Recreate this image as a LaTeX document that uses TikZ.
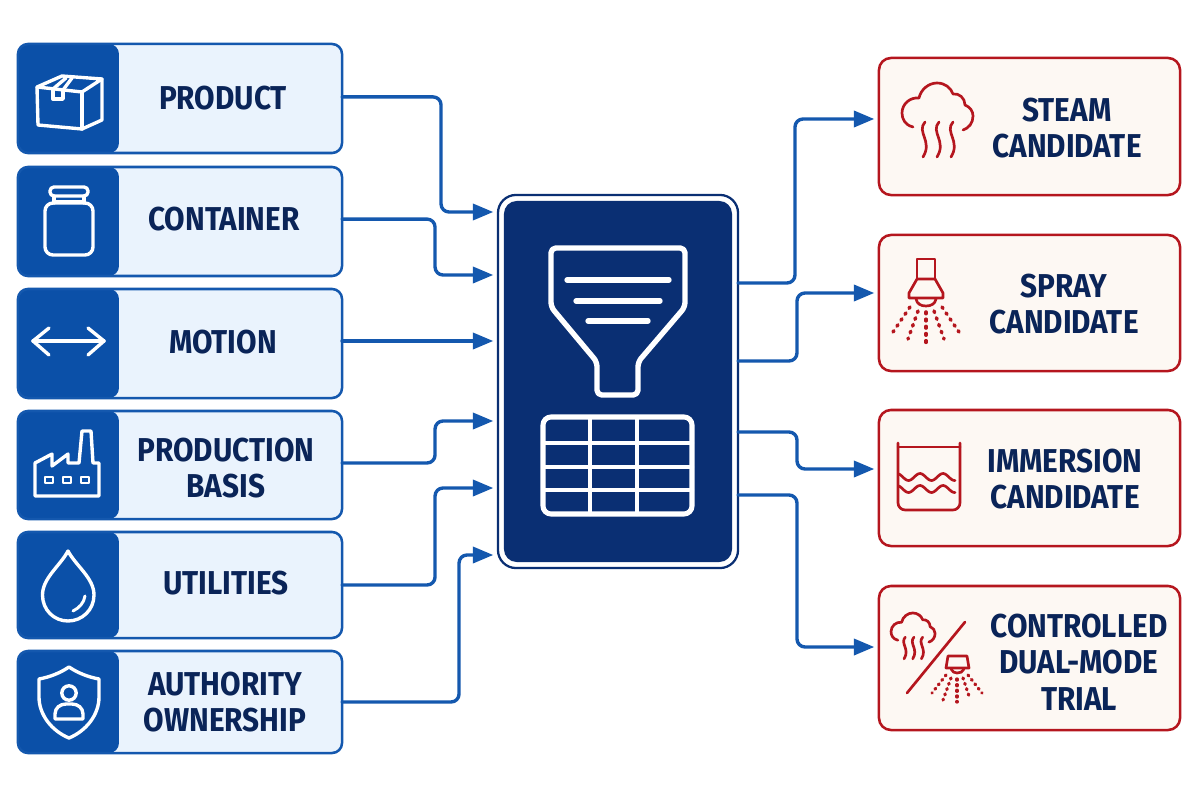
\documentclass[tikz,border=0pt]{standalone}
\usepackage{fontspec}
\setmainfont[FakeStretch=0.9]{Fira Sans}
\usetikzlibrary{arrows}
\definecolor{bandblue}{HTML}{0B50A8}
\definecolor{edgeblue}{HTML}{1458AE}
\definecolor{paleblue}{HTML}{EAF3FD}
\definecolor{hubnavy}{HTML}{0A2F73}
\definecolor{textnavy}{HTML}{0A2458}
\definecolor{edgered}{HTML}{B5161E}
\definecolor{palecream}{HTML}{FDF8F3}
\tikzset{
  inputbox/.style={draw=edgeblue,fill=paleblue,line width=1.8pt,rounded corners=0.25cm,minimum width=8.1cm,outer sep=0pt,
    path picture={\fill [bandblue] (path picture bounding box.south west) rectangle ([xshift=2.525cm]path picture bounding box.north west);}},
  outputbox/.style={draw=edgered,fill=palecream,line width=1.8pt,rounded corners=0.3cm,minimum width=7.525cm,outer sep=0pt},
  boxlabel/.style={text=textnavy,font=\bfseries\fontsize{23.5}{25}\selectfont,align=center,inner sep=0pt},
  flow/.style={edgeblue,line width=2.4pt,rounded corners=0.2cm,->,shorten >=0.1cm},
  whiteicon/.style={draw=white,line width=2.4pt},
  redicon/.style={draw=edgered,line width=1.9pt},
  raydots/.style={edgered,line width=2.5pt,dash pattern=on 1.2pt off 3.9pt},
  smalldots/.style={edgered,line width=2.3pt,dash pattern=on 0.8pt off 3.2pt}
}
\newcommand{\steamicon}{
\draw [redicon] (913,127) .. controls (905,125) and (902,119) .. (902,113) .. controls (902,104) and (910,97) .. (919,98) .. controls (921,89) and (929,83) .. (937,83) .. controls (945,83) and (951,88) .. (953,94) .. controls (959,93) and (965,98) .. (965,105) .. controls (970,107) and (973,111) .. (973,116) .. controls (973,123) and (969,128) .. (963,130);
\draw [redicon] (925,122) .. controls (916,132) and (933,141) .. (923,157);
\draw [redicon] (939,122) .. controls (930,132) and (947,141) .. (937,157);
\draw [redicon] (953,122) .. controls (944,132) and (961,141) .. (951,157);
}
\begin{document}
\begin{tikzpicture}[line cap=round,line join=round,>=triangle 45,x=0.025cm,y=-0.025cm]
\useasboundingbox (0,0) rectangle (1200,800);
% inputs
\node [inputbox,minimum height=2.725cm] (product) at (180,98.5) {};
\node [inputbox,minimum height=2.725cm] (container) at (180,221.5) {};
\node [inputbox,minimum height=2.725cm] (motion) at (180,343.5) {};
\node [inputbox,minimum height=2.7cm] (basis) at (180,465) {};
\node [inputbox,minimum height=2.65cm] (utilities) at (180,585) {};
\node [inputbox,minimum height=2.55cm] (authority) at (180,702) {};
\node [boxlabel] (productlabel) at (223,98) {PRODUCT};
\node [boxlabel] (containerlabel) at (224,219) {CONTAINER};
\node [boxlabel] (motionlabel) at (223,342) {MOTION};
\node [boxlabel] (basislabel) at (226,468) {PRODUCTION\\[1pt]BASIS};
\node [boxlabel] (utilitieslabel) at (226,583) {UTILITIES};
\node [boxlabel] (authoritylabel) at (225,702) {AUTHORITY\\[1pt]OWNERSHIP};
% box
\draw [whiteicon] (37,87) -- (62,76) -- (102,79) -- (82,92) -- cycle;
\draw [whiteicon] (37,87) -- (38,125) -- (82,129) -- (102,120) -- (102,79);
\draw [whiteicon] (82,92) -- (82,129);
\draw [whiteicon] (53,89) -- (53,99) -- (63,99) -- (63,90);
\draw [whiteicon] (53,89) -- (66,78);
\draw [whiteicon] (63,90) -- (72,78);
% jar
\draw [whiteicon,rounded corners=0.1cm] (50,187) rectangle (88,196);
\draw [whiteicon] (54,196) -- (54,203);
\draw [whiteicon] (84,196) -- (84,203);
\draw [whiteicon] (54,202) -- (84,202);
\draw [whiteicon,rounded corners=0.2cm] (45,203) rectangle (93,255);
% motion arrow
\draw [whiteicon] (33,341) -- (104,341);
\draw [whiteicon] (49,328) -- (33,341) -- (49,355);
\draw [whiteicon] (88,328) -- (104,341) -- (88,355);
% factory
\draw [whiteicon] (35,496) -- (35,463) -- (52,454) -- (52,466) -- (68,454) -- (68,463) -- (79,463) -- (82,431) -- (91,431) -- (93,463) -- (99,463) -- (99,496) -- cycle;
\draw [white,line width=1.8pt] (45,477) rectangle (53,483);
\draw [white,line width=1.8pt] (63,477) rectangle (71,483);
\draw [white,line width=1.8pt] (81,477) rectangle (89,483);
% drop
\draw [whiteicon] (68,551) .. controls (60,566) and (42.5,578) .. (42.5,595) .. controls (42.5,610) and (54,621) .. (68,621) .. controls (82,621) and (94,610) .. (94,595) .. controls (94,578) and (76,566) .. (68,551) -- cycle;
\draw [white,line width=2.1pt] (73,611) .. controls (79,608) and (84,603) .. (85,596);
% shield
\draw [whiteicon] (69,667) .. controls (60,673) and (50,677) .. (39,679) -- (39,697) .. controls (39,715) and (52,731) .. (69,738) .. controls (86,731) and (99,715) .. (99,697) -- (99,679) .. controls (88,677) and (78,673) .. (69,667) -- cycle;
\draw [whiteicon] (69,693) circle (0.18cm);
\draw [whiteicon] (55,719) -- (55,714) .. controls (55,708) and (60,704) .. (66,704) -- (72,704) .. controls (78,704) and (83,708) .. (83,714) -- (83,719) -- cycle;
% hub
\node [draw=hubnavy,fill=white,line width=1.6pt,rounded corners=0.45cm,minimum width=6cm,minimum height=9.325cm,outer sep=0pt] (hub) at (618,381.5) {};
\node [fill=hubnavy,rounded corners=0.32cm,minimum width=5.7cm,minimum height=9.025cm,outer sep=0pt] (hubinner) at (618,381.5) {};
\draw [white,line width=3.8pt,rounded corners=0.12cm] (551,248) -- (685,248) -- (685,307) -- (638,362) -- (638,395) -- (597,395) -- (597,362) -- (551,307) -- cycle;
\draw [white,line width=3.8pt] (567,280) -- (669,280);
\draw [white,line width=3.8pt] (576,301) -- (660,301);
\draw [white,line width=3.8pt] (588,321) -- (648,321);
\draw [white,line width=3.6pt,rounded corners=0.2cm] (543,417) rectangle (692,514);
\draw [white,line width=3pt] (590,417) -- (590,514);
\draw [white,line width=3pt] (637,417) -- (637,514);
\draw [white,line width=3pt] (543,443) -- (692,443);
\draw [white,line width=3pt] (543,467) -- (692,467);
\draw [white,line width=3pt] (543,490) -- (692,490);
% outputs
\node [outputbox,minimum height=3.425cm] (steam) at (1029.5,126.5) {};
\node [outputbox,minimum height=3.4cm] (spray) at (1029.5,303) {};
\node [outputbox,minimum height=3.4cm] (immersion) at (1029.5,478) {};
\node [outputbox,minimum height=3.6cm] (trial) at (1029.5,658) {};
\node [boxlabel] (steamlabel) at (1067,128) {STEAM\\[1pt]CANDIDATE};
\node [boxlabel] (spraylabel) at (1064,304) {SPRAY\\[1pt]CANDIDATE};
\node [boxlabel] (immersionlabel) at (1065,479) {IMMERSION\\[1pt]CANDIDATE};
\node [boxlabel] (triallabel) at (1079,662) {CONTROLLED\\[1pt]DUAL-MODE\\[1pt]TRIAL};
% steam
\steamicon
% spray
\draw [redicon] (917,279) -- (917,259) -- (935,259) -- (935,279);
\draw [redicon] (917,279) -- (935,279) -- (943,293) -- (943,298) -- (909,298) -- (909,293) -- cycle;
\draw [redicon] (916,299) .. controls (917,304) and (921,306) .. (926,306) .. controls (931,306) and (935,304) .. (936,299);
\draw [raydots] (910,307) -- (893,332);
\draw [raydots] (918,311) -- (908,339);
\draw [raydots] (926,312) -- (926,343);
\draw [raydots] (934,311) -- (944,339);
\draw [raydots] (942,307) -- (959,332);
% immersion
\draw [redicon,rounded corners=0.18cm] (898,443) -- (898,510) -- (960,510) -- (960,443);
\draw [redicon] (898,447) -- (960,447);
\draw [redicon,domain=899:955,samples=40] plot(\x,{477-3.5*cos(360*(\x-920)/23)});
\draw [redicon,domain=899:955,samples=40] plot(\x,{489-3.5*cos(360*(\x-920)/23)});
% dual mode
\begin{scope}[shift={(331.8,561.5)},scale=0.62]
\steamicon
\end{scope}
\draw [redicon] (907,693) -- (965,622);
\draw [redicon] (948,656) -- (967,656) -- (969,668) -- (946,668) -- cycle;
\draw [redicon] (951,669) .. controls (952,672) and (955,673) .. (957,673) .. controls (960,673) and (963,672) .. (964,669);
\draw [smalldots] (946,675) -- (932,693);
\draw [smalldots] (951,678) -- (943,700);
\draw [smalldots] (957,679) -- (957,702);
\draw [smalldots] (963,678) -- (970,699);
\draw [smalldots] (968,675) -- (982,693);
% connectors
\coordinate (hubin1) at (497,212);
\coordinate (hubin2) at (497,275);
\coordinate (hubin3) at (497,341);
\coordinate (hubin4) at (497,421);
\coordinate (hubin5) at (497,488);
\coordinate (hubin6) at (497,555);
\coordinate (hubout1) at (738,283);
\coordinate (hubout2) at (738,361);
\coordinate (hubout3) at (738,432);
\coordinate (hubout4) at (738,495);
\coordinate (steamin) at (878,119);
\coordinate (sprayin) at (878,293);
\coordinate (immersionin) at (878,469);
\coordinate (trialin) at (878,647);
\draw [flow] ([yshift=0.04cm]product.east) -- ++(99,0) |- (hubin1);
\draw [flow] ([yshift=0.06cm]container.east) -- ++(93,0) |- (hubin2);
\draw [flow] (motion.east |- hubin3) -- (hubin3);
\draw [flow] ([yshift=0.05cm]basis.east) -- ++(93,0) |- (hubin4);
\draw [flow] (utilities.east) -- ++(93,0) |- (hubin5);
\draw [flow] (authority.east) -- ++(117,0) |- (hubin6);
\draw [flow] (hubout1) -- ++(57,0) |- (steamin);
\draw [flow] (hubout2) -- ++(59,0) |- (sprayin);
\draw [flow] (hubout3) -- ++(59,0) |- (immersionin);
\draw [flow] (hubout4) -- ++(59,0) |- (trialin);
\end{tikzpicture}
\end{document}
